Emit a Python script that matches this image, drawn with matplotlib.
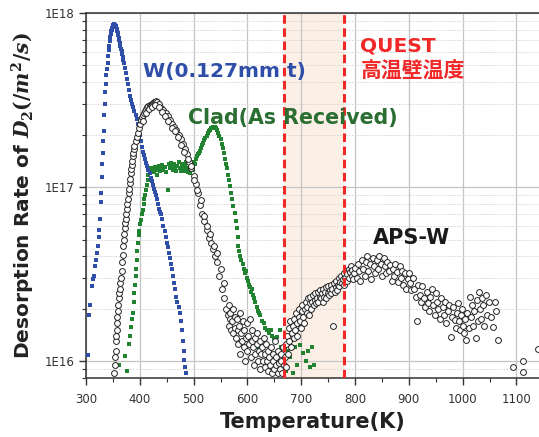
import numpy as np
import matplotlib
matplotlib.use("Agg")
import matplotlib.pyplot as plt
from matplotlib.ticker import FixedLocator, LogLocator, NullFormatter, FuncFormatter

plt.rcParams['mathtext.fontset'] = 'custom'
plt.rcParams['mathtext.it'] = 'DejaVu Serif:italic:bold'
plt.rcParams['mathtext.rm'] = 'DejaVu Serif:bold'

# W (0.127mm t): temperature (K), rate in units of 1e16 /m2/s
w_temp = [303, 305, 307, 311, 313, 314, 316, 318, 320, 322, 324, 325, 326, 327, 328, 329, 330,
          331, 332, 333, 334, 335, 336, 337, 338, 339, 340, 341, 342, 343, 344, 345, 346, 347,
          348, 349, 350, 351, 352, 353, 354, 355, 356, 357, 358, 359, 360, 361, 362, 363, 364,
          365, 366, 367, 368, 369, 370, 372, 374, 376, 378, 380, 382, 384, 386, 388, 390, 392,
          394, 396, 398, 400, 402, 404, 406, 408, 410, 412, 414, 416, 418, 420, 422, 424, 426,
          428, 430, 432, 434, 436, 438, 440, 442, 444, 446, 448, 450, 452, 454, 456, 458, 460,
          462, 464, 466, 468, 470, 472, 474, 476, 478, 480, 482, 483, 484, 485]
w_rate = [1.09, 1.85, 2.1, 2.7, 2.95, 3.1, 3.5, 3.8, 4.2, 4.6, 5.2, 5.7, 6.6, 8.2, 9.3, 11.5, 13.5,
          15.7, 18.5, 21, 26, 30, 35, 39, 44, 48, 52, 57, 61, 65, 69, 73, 76, 78.5,
          80.5, 82.5, 84, 85.5, 86.5, 86, 85.5, 84.5, 83, 81.5, 79, 77, 74.5, 72, 70, 67.5, 65,
          62.5, 60.5, 58.5, 56, 54, 52, 48.5, 45, 42, 39, 36, 33.5, 31.5, 30, 29, 27.5, 26,
          24.5, 23, 21.5, 20, 18.5, 17, 16, 15.3, 14.5, 13.8, 13.2, 12.6, 12, 11.3, 10.8, 10.3, 9.8,
          9.4, 9.0, 8.5, 8.0, 7.5, 7.2, 7.0, 6.6, 6.0, 5.6, 5.2, 4.8, 4.5, 4.2, 3.9, 3.6, 3.4,
          3.1, 2.8, 2.6, 2.35, 2.2, 2.05, 1.9, 1.7, 1.5, 1.3, 1.15, 1.02, 0.92, 0.85]

# Clad (As Received)
clad_temp = [362, 373, 377, 380, 382, 384, 386, 387, 389, 390, 391, 392, 393, 394, 395, 396, 398,
             399, 401, 402, 404, 405, 407, 408, 410, 412, 413, 415, 416, 418, 420, 422, 424, 426,
             428, 430, 432, 434, 436, 438, 440, 442, 444, 446, 448, 452, 454, 456, 458, 460, 462,
             464, 466, 468, 470, 472, 474, 476, 478, 480, 482, 484, 486, 488, 490, 492, 494, 496,
             498, 500, 502, 504, 506, 508, 510, 512, 514, 516, 518, 520, 522, 524, 526, 528, 530,
             532, 534, 536, 538, 540, 542, 544, 546, 548, 550, 552, 554, 556, 558, 560, 562, 564,
             566, 568, 570, 572, 574, 576, 578, 580, 582, 583, 585, 587, 589, 591, 593, 595, 597,
             599, 601, 603, 605, 607, 609, 611, 613, 615, 617, 619, 621, 624, 627, 630, 633, 636,
             640, 643, 646, 650, 655, 660, 624, 630, 611, 620, 640, 645, 650, 656, 662, 668, 672,
             676, 680, 684, 688, 692, 698, 703, 708, 712, 716, 720, 723]
clad_rate = [0.95, 1.07, 0.88, 1.26, 1.4, 1.58, 1.75, 1.9, 2.2, 2.45, 2.75, 3.1, 3.4, 3.8, 4.3, 4.8, 5.3,
             5.6, 6.1, 6.5, 7.0, 7.4, 8.0, 8.5, 9.0, 9.6, 10.3, 11.0, 11.7, 12.5, 12.8, 12.4, 12.9, 12.2,
             13.0, 12.5, 11.8, 12.7, 13.2, 12.3, 12.9, 13.4, 12.6, 13.1, 12.2, 9.6, 13.5, 12.9, 13.8, 13.2, 12.6,
             13.6, 13.0, 12.4, 13.3, 13.9, 12.9, 12.4, 13.5, 13.0, 12.3, 13.4, 13.9, 12.8, 12.2, 12.9, 12.0, 13.5,
             12.6, 14.0, 13.6, 14.5, 15.0, 15.4, 15.8, 16.2, 16.8, 17.4, 18.0, 18.6, 19.2, 19.8, 20.4, 21.0, 21.4,
             21.8, 22.0, 22.2, 22.3, 22.2, 21.8, 21.2, 20.6, 19.8, 18.8, 17.8, 16.8, 15.8, 14.6, 13.6, 12.8, 11.8,
             11.0, 10.2, 9.3, 8.6, 7.8, 7.1, 6.4, 5.8, 5.2, 4.6, 4.3, 4.0, 3.8, 3.6, 3.4, 3.2, 3.3,
             3.0, 2.9, 2.75, 2.65, 2.5, 2.6, 2.4, 2.3, 2.2, 2.05, 1.95, 1.9, 1.85, 1.7, 1.65, 1.55, 1.5,
             1.45, 1.5, 1.4, 1.35, 1.38, 1.5, 1.15, 1.0, 1.05, 1.2, 1.1, 0.95, 1.05, 0.9, 1.2, 1.0, 0.88,
             1.15, 1.05, 0.85, 1.2, 0.95, 1.23, 1.12, 1.0, 1.15, 0.92, 1.2, 0.95]

# APS-W
aps_temp = [352, 353, 354, 355, 355.5, 356, 357, 358, 358.5, 359, 360, 361, 362, 363, 364, 365, 366,
            367, 368, 369, 370, 371, 372, 373, 374, 375, 376, 377, 378, 379, 380, 381, 382, 383, 384,
            385, 386, 387, 388, 389, 390, 392, 394, 396, 398, 400, 402, 404, 406, 408, 410, 412, 414,
            416, 418, 420, 422, 424, 426, 428, 430, 432, 436, 440, 444, 448, 452, 456, 460, 464, 468,
            472, 476, 480, 484, 488, 492, 496, 500, 504, 508, 512, 516, 520, 524, 528, 532, 536, 540,
            544, 548, 552, 556, 560, 564, 568,
            405, 411, 417, 423, 429, 435, 441, 447, 453, 459, 465, 471, 477, 483, 489, 495, 501, 507,
            513, 519, 525, 531, 537, 543, 550, 557,
            565, 566, 568, 570, 571, 573, 574, 576, 577, 579, 580, 582, 583, 585, 586, 587, 588, 590,
            591, 593, 594, 596, 597, 599, 600, 602, 603, 605, 606, 608, 609, 611, 612, 614, 615, 617,
            618, 620, 621, 623, 624, 626, 627, 629, 630, 632, 633, 635, 636, 638, 639, 641, 642, 644,
            645, 647, 648, 650, 651, 653, 654, 656, 657, 659, 660, 662, 663, 665, 666, 668, 669, 671,
            672, 674, 675, 677, 678, 680, 681, 683, 684, 686, 687, 689, 690, 692, 693, 695, 696, 698,
            699, 701, 702, 704, 705, 707, 708, 710, 711, 713, 714, 716, 717, 719, 720, 722, 723, 725,
            726, 728, 729, 731, 732, 734, 735, 737, 738, 740, 741, 743, 744, 746, 747, 749, 750, 752,
            753, 755, 756, 758, 759, 761, 762, 764, 765, 767, 768, 770, 771, 773, 774, 776, 777, 779,
            780, 782, 783, 785, 786, 788, 789, 791, 792, 794, 795, 797, 798, 800,
            803, 805, 808, 810, 813, 815, 818, 820, 823, 825, 828, 830, 833, 835, 838, 840, 843, 845,
            848, 850, 853, 855, 858, 860, 863, 865, 868, 870, 873, 875, 878, 880, 883, 885, 888, 890,
            893, 895, 898, 900, 903, 905, 908, 910, 913, 915, 918, 920, 923, 925, 928, 930, 933, 935,
            938, 940, 943, 945, 948, 950, 953, 955, 958, 960, 963, 965, 968, 970, 973, 975, 978, 980,
            983, 985, 987, 989, 991, 993, 995, 997, 999, 1001, 1003, 1005, 1007, 1009, 1011, 1013, 1015, 1017,
            1020, 1022, 1024, 1026, 1028, 1030, 1032, 1034, 1036, 1038, 1040, 1043, 1046, 1049, 1052, 1056,
            1060, 1063, 1065, 1093, 1113, 1113, 1141]
aps_rate = [0.85, 0.95, 1.05, 1.15, 1.3, 1.4, 1.5, 1.65, 1.8, 1.95, 2.1, 2.3, 2.45, 2.6, 2.8, 3.0, 3.3,
            3.7, 4.1, 4.6, 5.0, 5.4, 5.8, 6.2, 6.6, 7.0, 7.5, 8.0, 8.6, 9.2, 9.8, 10.5, 11.2, 12.0, 12.7,
            13.4, 14.2, 15.0, 15.8, 16.5, 17.2, 18.3, 19.5, 20.5, 21.8, 23.0, 24.2, 25.2, 26.0, 26.8, 27.5, 28.2, 28.8,
            29.2, 29.6, 29.8, 30.2, 30.5, 30.8, 31.0, 31.2, 30.8, 30.0, 28.6, 27.6, 26.8, 25.6, 24.4, 23.0, 22.2, 21.2,
            20.0, 18.8, 17.8, 16.6, 15.4, 14.0, 12.8, 11.6, 10.4, 9.2, 7.9, 7.0, 6.4, 5.7, 5.1, 4.8, 4.4, 4.0,
            3.7, 3.1, 2.6, 2.3, 2.0, 1.85, 1.75,
            24.0, 26.5, 28.0, 29.0, 29.5, 28.8, 27.0, 25.5, 24.0, 22.0, 21.0, 19.5, 17.5, 16.0, 14.5, 13.2, 11.0, 9.6,
            8.4, 6.8, 6.0, 5.4, 4.6, 4.2, 3.4, 2.8,
            1.6, 2.1, 1.9, 1.5, 1.7, 2.0, 1.45, 1.8, 1.55, 1.35, 1.75, 1.5, 1.25, 1.6, 1.9, 1.1, 1.45, 1.3,
            1.7, 1.2, 1.5, 1.0, 1.35, 1.65, 1.15, 1.4, 1.25, 1.75, 1.05, 1.3, 1.5, 1.2, 0.95, 1.35, 1.1, 1.25,
            1.45, 1.0, 1.15, 1.3, 0.9, 1.1, 1.2, 1.0, 1.35, 0.92, 1.1, 1.25, 1.0, 0.88, 1.15, 1.05, 0.95, 1.2,
            0.85, 1.0, 1.1, 0.9, 1.3, 0.95, 1.05, 0.85, 1.15, 0.98, 0.9, 1.1, 1.0, 0.85, 1.2, 0.95, 1.05, 1.25,
            0.92, 1.4, 1.1, 1.55, 1.3, 1.7, 1.2, 1.45, 1.6, 1.35, 1.75, 1.5, 1.9, 1.65, 1.4, 1.8, 2.0, 1.7,
            1.55, 1.95, 2.1, 1.8, 1.65, 2.0, 2.2, 1.9, 2.05, 2.3, 1.85, 2.15, 2.35, 2.0, 2.2, 2.4, 2.1, 2.25,
            2.45, 2.15, 2.3, 2.5, 2.2, 2.35, 2.55, 2.3, 2.45, 2.2, 2.6, 2.35, 2.5, 2.65, 2.3, 2.45, 2.7, 2.4,
            2.55, 2.75, 2.45, 2.6, 1.6, 2.8, 2.5, 2.65, 2.9, 2.55, 2.75, 3.0, 2.7, 2.85, 3.1, 2.8, 2.95, 3.2,
            2.75, 3.0, 3.3, 2.9, 3.15, 3.4, 3.0, 3.25, 3.5, 3.1, 3.35, 2.95, 3.2, 3.45,
            3.0, 3.6, 3.3, 2.9, 3.8, 3.4, 3.1, 3.7, 4.0, 3.3, 3.6, 2.95, 3.9, 3.5, 3.2, 3.8, 3.4, 4.0,
            3.6, 3.1, 3.9, 3.5, 3.2, 3.7, 3.3, 3.55, 2.9, 3.4, 3.1, 3.6, 3.25, 2.85, 3.5, 3.0, 3.3, 2.75,
            3.2, 2.6, 2.95, 3.2, 2.8, 2.55, 3.0, 2.6, 2.35, 1.7, 2.75, 2.4, 2.2, 2.7, 2.3, 2.05, 2.5, 2.15,
            1.95, 2.35, 2.6, 2.1, 1.85, 2.45, 2.2, 2.0, 1.75, 2.3, 2.05, 1.85, 2.2, 1.65, 1.95, 2.1, 1.38, 1.8,
            2.05, 1.72, 1.55, 1.9, 2.15, 1.7, 1.5, 1.85, 2.0, 1.6, 1.45, 1.75, 1.32, 1.9, 1.55, 2.34, 1.8, 2.1,
            1.6, 1.95, 1.35, 2.25, 1.7, 2.5, 2.0, 1.75, 2.3, 2.1, 1.6, 2.4, 1.85, 2.2, 1.8, 1.58,
            2.2, 1.95, 1.32, 0.93, 1.0, 0.87, 1.17]

# QUEST wall temperature band (K)
quest_band = [668, 780]

fig = plt.figure(figsize=(5.39, 4.37), dpi=100)
ax = fig.add_axes([0.1596, 0.135, 0.8404, 0.835])

ax.axvspan(quest_band[0], quest_band[1], color='#fcf0e6', zorder=0, lw=0)

scale = 1e16
ax.plot(clad_temp, np.array(clad_rate) * scale, 's', ms=3.4, color='#21822f', mew=0, zorder=3)
ax.plot(w_temp, np.array(w_rate) * scale, 's', ms=3.4, color='#2f4ea8', mew=0, zorder=3)
ax.plot(aps_temp, np.array(aps_rate) * scale, 'o', ms=4.2, mfc='white', mec='#222222', mew=0.7, zorder=4)

for xv in quest_band:
    ax.axvline(xv, color='#f02828', lw=2.2, ls=(0, (2.8, 1.5)), zorder=5)

ax.set_yscale('log')
ax.set_xlim(300, 1142)
ax.set_ylim(8e15, 1e18)

ax.xaxis.set_major_locator(FixedLocator(np.arange(300, 1101, 100)))
ax.xaxis.set_minor_locator(FixedLocator(np.arange(350, 1141, 100)))
ax.yaxis.set_major_locator(LogLocator(base=10, numticks=10))
ax.yaxis.set_minor_locator(LogLocator(base=10, subs=np.arange(2, 10), numticks=20))
ax.yaxis.set_minor_formatter(NullFormatter())
ax.yaxis.set_major_formatter(FuncFormatter(lambda v, p: '1E%d' % round(np.log10(v))))

ax.grid(True, which='major', color='#c4c4c4', lw=0.9, zorder=1)
ax.grid(True, which='minor', axis='y', color='#d4d4d4', lw=0.7, ls=(0, (1.5, 1.5)), zorder=1)
ax.set_axisbelow(True)

ax.tick_params(which='major', direction='out', length=5, width=1, labelsize=8.5, colors='#333333')
ax.tick_params(which='minor', direction='out', length=3, width=0.8, colors='#333333')
ax.tick_params(axis='x', pad=6)
for s in ['left', 'bottom', 'top']:
    ax.spines[s].set_color('#333333')
    ax.spines[s].set_linewidth(1.1)
ax.spines['right'].set_visible(False)

ax.set_xlabel('Temperature(K)', fontsize=15, fontweight='bold', color='#222222', labelpad=4)
ax.set_ylabel('Desorption Rate of $D_2(/m^2/s)$', fontsize=14.5, fontweight='bold',
              color='#222222', labelpad=5)

ax.text(406, 4.6e17, 'W(0.127mm t)', color='#2f4ea8', fontsize=14.5, fontweight='bold',
        va='center', ha='left', zorder=6)
ax.text(490, 2.5e17, 'Clad(As Received)', color='#2a6e32', fontsize=14.8, fontweight='bold',
        va='center', ha='left', zorder=6)
ax.text(810, 6.5e17, 'QUEST', color='#f02828', fontsize=14.5, fontweight='bold',
        va='center', ha='left', zorder=6)
ax.text(810, 4.6e17, '高温壁温度', color='#f02828', fontsize=15, fontweight='bold',
        va='center', ha='left', zorder=6, family=['Noto Sans CJK JP', 'DejaVu Sans'])
ax.text(833, 5.1e16, 'APS-W', color='#1a1a1a', fontsize=15, fontweight='bold',
        va='center', ha='left', zorder=6)

fig.savefig('out.png', dpi=100)
